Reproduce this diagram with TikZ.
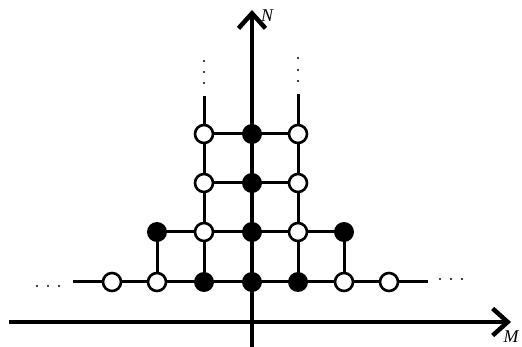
\documentclass[tikz,border=0pt]{standalone}
\usepackage{fontspec}
\setmainfont{Liberation Serif}
\usetikzlibrary{arrows.meta}
\begin{document}
\begin{tikzpicture}[x=1pt,y=-1pt,
  opn/.style={circle,draw,fill=white,line width=2.6pt,minimum size=18pt,inner sep=0pt},
  fil/.style={circle,fill=black,minimum size=20pt,inner sep=0pt},
  grid/.style={line width=3pt},
  axis/.style={line width=4.5pt,-{Straight Barb[length=15pt,width=27pt,line width=4.5pt]}},
  dot/.style={circle,fill=black,inner sep=0pt,minimum size=2.4pt},
  lab/.style={font=\itshape\fontsize{18}{18}\selectfont}]
\useasboundingbox (0,0) rectangle (522,347);
% coordinates
\coordinate (xs) at (9,322);
\coordinate (xe) at (511,322);
\coordinate (ys) at (252,347);
\coordinate (ye) at (252,10);
\coordinate (lend) at (73,282);
\coordinate (rend) at (428,282);
\coordinate (ltop) at (204,96);
\coordinate (rtop) at (298,94);
% grid lines
\draw[grid] (lend) -- (rend);
\draw[grid] (204,282) -- (ltop);
\draw[grid] (298,282) -- (rtop);
\draw[grid] (157,282) -- (157,232) -- (344,232) -- (344,282);
\draw[grid] (204,183) -- (298,183);
\draw[grid] (204,134) -- (298,134);
% axes
\draw[axis] (xs) -- (xe);
\draw[axis] (ys) -- (ye);
% nodes row 0
\node[opn] (a0) at (112,282) {};
\node[opn] (b0) at (157,282) {};
\node[fil] (c0) at (204,282) {};
\node[fil] (d0) at (252,282) {};
\node[fil] (e0) at (298,282) {};
\node[opn] (f0) at (344,282) {};
\node[opn] (g0) at (389,282) {};
% row 1
\node[fil] (b1) at (157,232) {};
\node[opn] (c1) at (204,232) {};
\node[fil] (d1) at (252,232) {};
\node[opn] (e1) at (298,232) {};
\node[fil] (f1) at (344,232) {};
% row 2
\node[opn] (c2) at (204,183) {};
\node[fil] (d2) at (252,183) {};
\node[opn] (e2) at (298,183) {};
% row 3
\node[opn] (c3) at (204,134) {};
\node[fil] (d3) at (252,134) {};
\node[opn] (e3) at (298,134) {};
% dots
\foreach \x in {37,48,59} \node[dot] at (\x,286) {};
\foreach \x in {440,451,462} \node[dot] at (\x,279) {};
\foreach \y in {61,72,83} \node[dot] at (204,\y) {};
\foreach \y in {58,70,81} \node[dot] at (298,\y) {};
% labels
\node[lab] (N) at (267,16) {N};
\node[lab] (M) at (511,337) {M};
\end{tikzpicture}
\end{document}
